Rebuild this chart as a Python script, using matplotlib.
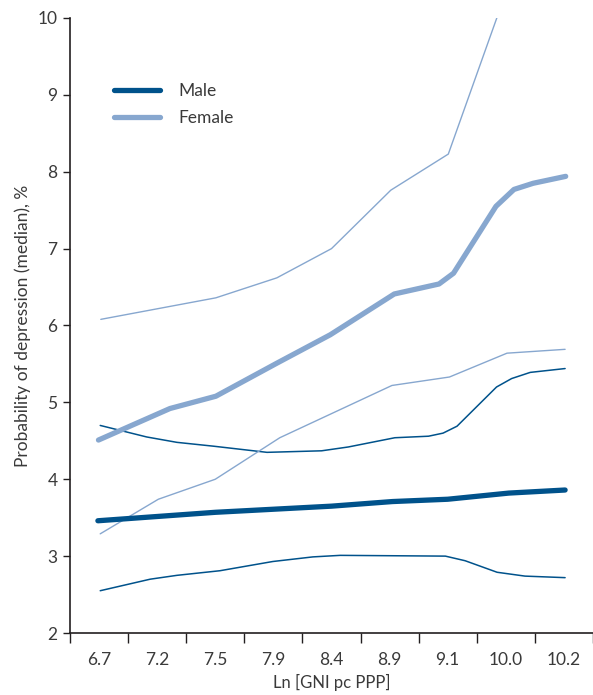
import matplotlib
matplotlib.use("Agg")
import matplotlib.pyplot as plt

plt.rcParams['font.family'] = ['Lato', 'DejaVu Sans']

# x positions are on the category scale (bin edges 0..9, labels at bin centres)
tick_labels = ["6.7", "7.2", "7.5", "7.9", "8.4", "8.9", "9.1", "10.0", "10.2"]

male_med_x = [0.48, 2.50, 4.50, 5.55, 6.50, 7.55, 8.52]
male_med_y = [3.46, 3.57, 3.65, 3.71, 3.74, 3.82, 3.86]

male_hi_x = [0.52, 1.32, 1.84, 2.47, 3.39, 4.33, 4.79, 5.59, 6.17, 6.42, 6.66, 7.34, 7.60, 7.92, 8.52]
male_hi_y = [4.70, 4.55, 4.48, 4.43, 4.35, 4.37, 4.42, 4.54, 4.56, 4.60, 4.69, 5.20, 5.31, 5.39, 5.44]

male_lo_x = [0.52, 1.38, 1.84, 2.58, 3.49, 4.18, 4.65, 6.46, 6.80, 7.35, 7.83, 8.52]
male_lo_y = [2.55, 2.70, 2.75, 2.81, 2.93, 2.99, 3.01, 3.00, 2.94, 2.79, 2.74, 2.72]

female_med_x = [0.49, 1.72, 2.51, 3.56, 4.48, 5.58, 6.35, 6.60, 7.33, 7.64, 7.97, 8.53]
female_med_y = [4.51, 4.92, 5.08, 5.51, 5.88, 6.41, 6.54, 6.68, 7.55, 7.77, 7.85, 7.94]

female_hi_x = [0.53, 2.51, 3.56, 4.50, 5.52, 6.51, 7.50]
female_hi_y = [6.08, 6.36, 6.62, 7.00, 7.76, 8.23, 10.33]

female_lo_x = [0.52, 1.52, 2.50, 3.61, 5.54, 6.53, 7.52, 8.52]
female_lo_y = [3.29, 3.74, 4.00, 4.54, 5.22, 5.33, 5.64, 5.69]

male_c = "#00528b"
female_c = "#87a7cf"
text_c = "#3a3a3a"
spine_c = "#231f20"

fig = plt.figure(figsize=(5.93, 6.95), dpi=100)
ax = fig.add_axes([70/593, 62/695, 523/593, 615/695])

ax.plot(male_hi_x, male_hi_y, color=male_c, lw=1.1, solid_capstyle='round')
ax.plot(male_lo_x, male_lo_y, color=male_c, lw=1.1, solid_capstyle='round')
ax.plot(female_hi_x, female_hi_y, color=female_c, lw=1.0, solid_capstyle='round')
ax.plot(female_lo_x, female_lo_y, color=female_c, lw=1.0, solid_capstyle='round')
ax.plot(male_med_x, male_med_y, color=male_c, lw=3.8, solid_capstyle='round', label="Male")
ax.plot(female_med_x, female_med_y, color=female_c, lw=3.8, solid_capstyle='round', label="Female")

ax.set_xlim(0, 9)
ax.set_ylim(2, 10)

for s in ["top", "right"]:
    ax.spines[s].set_visible(False)
for s in ["left", "bottom"]:
    ax.spines[s].set_color(spine_c)
    ax.spines[s].set_linewidth(1.2)

ax.set_yticks(range(2, 11))
ax.tick_params(axis='y', length=5, width=1.0, color=spine_c, labelsize=12.5,
               labelcolor=text_c, pad=4)
ax.set_xticks(range(0, 10))
ax.set_xticklabels([])
ax.tick_params(axis='x', which='major', length=7, width=1.0, color=spine_c)
ax.set_xticks([i + 0.5 for i in range(len(tick_labels))], minor=True)
ax.set_xticklabels(tick_labels, minor=True)
ax.tick_params(axis='x', which='minor', length=0, labelsize=12.5, labelcolor=text_c, pad=14)

ax.set_xlabel("Ln [GNI pc PPP]", fontsize=12, color=text_c, labelpad=4)
ax.set_ylabel("Probability of depression (median), %", fontsize=12.5, color=text_c, labelpad=5)

leg = ax.legend(loc='upper left', bbox_to_anchor=(0.07, 0.905), frameon=False,
                fontsize=12.5, handlelength=2.65, handletextpad=1.1, labelspacing=0.62,
                borderaxespad=0)
for t in leg.get_texts():
    t.set_color(text_c)

fig.savefig("out.png", dpi=100)
